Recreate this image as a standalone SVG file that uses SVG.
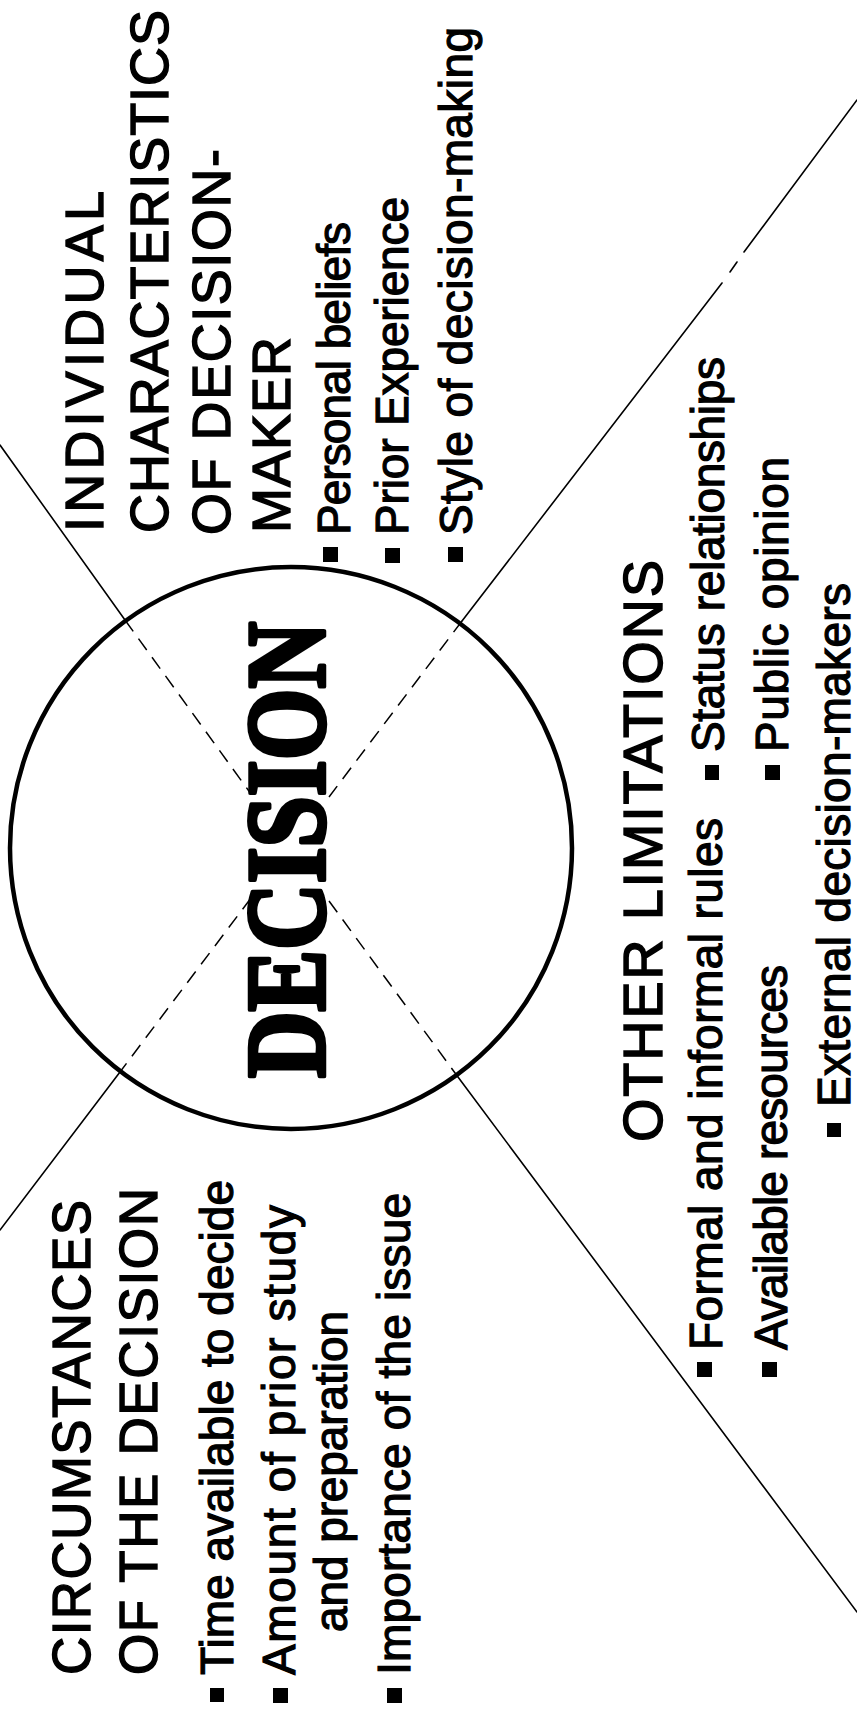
<svg xmlns="http://www.w3.org/2000/svg" width="857" height="1714" viewBox="0 0 857 1714">
  <style>
    .line { stroke: #000; stroke-width: 1.6; fill: none; stroke-linecap: round; }
    .dash { stroke: #000; stroke-width: 1.5; fill: none; stroke-dasharray: 14 9; }
    .ring { stroke: #000; stroke-width: 4.5; fill: none; }
    .head { font-family: "Liberation Sans", Arial, sans-serif; font-size: 54px; fill: #000; stroke: #000; stroke-width: 1.4; }
    .body { font-family: "Liberation Sans", Arial, sans-serif; font-size: 46px; fill: #000; stroke: #000; stroke-width: 1.2; }
    .big { font-family: "Liberation Serif", "Times New Roman", serif; font-size: 112px; font-weight: bold; fill: #000; stroke: #000; stroke-width: 4.5; stroke-linejoin: round; }
    .bul { fill: #000; }
  </style>
  <rect x="0" y="0" width="857" height="1714" fill="#fff"/>

  <g id="connectors">
    <!-- line 1: upper-left to lower-right -->
    <line class="line" x1="0" y1="445" x2="125" y2="620"/>
    <line class="dash" x1="125" y1="620" x2="251" y2="794"/>
    <line class="dash" x1="329" y1="901" x2="458" y2="1077"/>
    <line class="line" x1="458" y1="1077" x2="857" y2="1612"/>
    <!-- line 2: upper-right to lower-left -->
    <line class="line" x1="857" y1="100" x2="744" y2="252"/>
    <line class="line" x1="737" y1="262" x2="730" y2="272"/>
    <line class="line" x1="722" y1="283" x2="462" y2="621"/>
    <line class="dash" x1="462" y1="621" x2="329" y2="797"/>
    <line class="dash" x1="251" y1="898" x2="120" y2="1072"/>
    <line class="line" x1="120" y1="1072" x2="0" y2="1230"/>
  </g>

  <g id="decision">
    <circle class="ring" cx="291" cy="848" r="281"/>
    <text class="big" transform="translate(324,1078) rotate(-90)" x="0" y="0" textLength="456" lengthAdjust="spacingAndGlyphs">DECISION</text>
  </g>

  <g id="individual">
    <text class="head" transform="translate(103,532) rotate(-90)" textLength="341">INDIVIDUAL</text>
    <text class="head" transform="translate(168,533) rotate(-90)" textLength="523">CHARACTERISTICS</text>
    <text class="head" transform="translate(230,535) rotate(-90)" textLength="386">OF DECISION-</text>
    <text class="head" transform="translate(290,533) rotate(-90)" textLength="196">MAKER</text>
    <rect class="bul" x="323" y="547" width="15" height="15"/>
    <text class="body" transform="translate(350,535) rotate(-90)" textLength="313">Personal beliefs</text>
    <rect class="bul" x="385" y="548" width="15" height="15"/>
    <text class="body" transform="translate(408,535) rotate(-90)" textLength="338">Prior Experience</text>
    <rect class="bul" x="448" y="547" width="15" height="15"/>
    <text class="body" transform="translate(472,535) rotate(-90)" textLength="508">Style of decision-making</text>
  </g>

  <g id="circumstances">
    <text class="head" style="font-size:53px" transform="translate(90,1675) rotate(-90)" textLength="475">CIRCUMSTANCES</text>
    <text class="head" style="font-size:53px" transform="translate(157,1675) rotate(-90)" textLength="487">OF THE DECISION</text>
    <rect class="bul" x="210" y="1688" width="14" height="14"/>
    <text class="body" transform="translate(233,1675) rotate(-90)" textLength="495">Time available to decide</text>
    <rect class="bul" x="273" y="1688" width="15" height="15"/>
    <text class="body" transform="translate(295,1675) rotate(-90)" textLength="470">Amount of prior study</text>
    <text class="body" transform="translate(347,1632) rotate(-90)" textLength="321">and preparation</text>
    <rect class="bul" x="387" y="1688" width="15" height="15"/>
    <text class="body" transform="translate(410,1675) rotate(-90)" textLength="482">Importance of the issue</text>
  </g>

  <g id="limitations">
    <text class="head" style="font-size:56px" transform="translate(662,1142) rotate(-90)" textLength="582">OTHER LIMITATIONS</text>
    <rect class="bul" x="697" y="1362" width="15" height="15"/>
    <text class="body" transform="translate(722,1350) rotate(-90)" textLength="532">Formal and informal rules</text>
    <rect class="bul" x="705" y="765" width="14" height="15"/>
    <text class="body" transform="translate(724,752) rotate(-90)" textLength="395">Status relationships</text>
    <rect class="bul" x="762" y="1362" width="15" height="15"/>
    <text class="body" transform="translate(787,1350) rotate(-90)" textLength="385">Available resources</text>
    <rect class="bul" x="765" y="765" width="15" height="15"/>
    <text class="body" transform="translate(788,752) rotate(-90)" textLength="295">Public opinion</text>
    <rect class="bul" x="827" y="1123" width="14" height="14"/>
    <text class="body" transform="translate(850,1107) rotate(-90)" textLength="524">External decision-makers</text>
  </g>
</svg>
